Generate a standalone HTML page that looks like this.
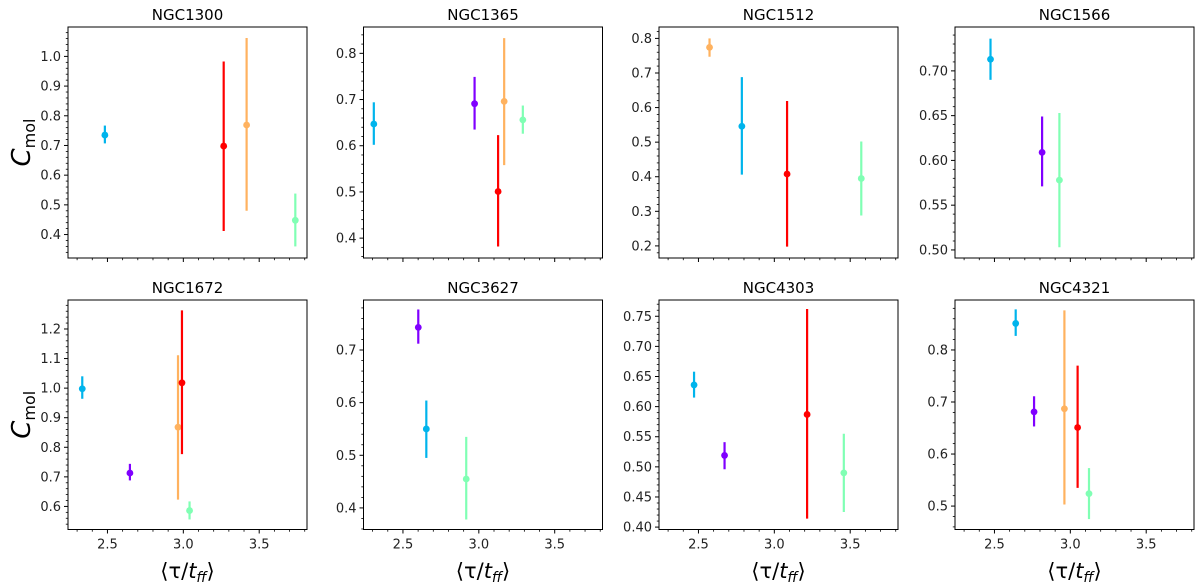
<!DOCTYPE html>
<html><head><meta charset="utf-8"><style>
html,body{margin:0;padding:0;background:#fff;}
svg{display:block;font-family:"DejaVu Sans","Liberation Sans",sans-serif;}
</style></head><body>
<svg id="fig" width="1200" height="586" viewBox="0 0 1200 586"></svg>
<script>
const panelNames=["NGC1300","NGC1365","NGC1512","NGC1566","NGC1672","NGC3627","NGC4303","NGC4321"];
const yLimLo=[0.321,0.357,0.165,0.491,0.522,0.359,0.396,0.455];
const yLimHi=[1.099,0.857,0.833,0.749,1.298,0.795,0.777,0.896];
const yMajor=[0.1,0.1,0.1,0.05,0.1,0.1,0.05,0.1];
const yDec=[1,1,1,2,1,1,2,1];
const xTicks=[2.5,3.0,3.5];
const xLimLo=2.24, xLimHi=3.815;
const colCyan="#00b4ec",colPurple="#8000ff",colRed="#ff0000",colOrange="#ffb25f",colGreen="#80ffb4";
const ptX=[
 [2.483,3.266,3.417,3.738],
 [2.308,2.972,3.127,3.167,3.29],
 [2.573,2.786,3.084,3.573],
 [2.474,2.814,2.928],
 [2.334,2.648,2.965,2.991,3.041],
 [2.601,2.654,2.917],
 [2.471,2.672,3.216,3.458],
 [2.640,2.761,2.961,3.048,3.123]];
const ptY=[
 [0.735,0.698,0.769,0.448],
 [0.647,0.691,0.501,0.696,0.656],
 [0.774,0.546,0.408,0.395],
 [0.713,0.609,0.578],
 [0.998,0.713,0.868,1.018,0.586],
 [0.743,0.550,0.455],
 [0.636,0.519,0.587,0.490],
 [0.851,0.681,0.687,0.651,0.524]];
const errLo=[
 [0.707,0.412,0.480,0.360],
 [0.602,0.635,0.382,0.558,0.626],
 [0.747,0.406,0.198,0.288],
 [0.690,0.571,0.503],
 [0.964,0.688,0.623,0.777,0.556],
 [0.712,0.495,0.378],
 [0.615,0.496,0.414,0.425],
 [0.827,0.653,0.503,0.535,0.475]];
const errHi=[
 [0.767,0.983,1.062,0.538],
 [0.694,0.749,0.623,0.833,0.687],
 [0.800,0.688,0.619,0.502],
 [0.736,0.649,0.653],
 [1.040,0.744,1.111,1.263,0.617],
 [0.777,0.604,0.535],
 [0.658,0.541,0.762,0.555],
 [0.878,0.711,0.876,0.770,0.573]];
const ptColor=[
 [colCyan,colRed,colOrange,colGreen],
 [colCyan,colPurple,colRed,colOrange,colGreen],
 [colOrange,colCyan,colRed,colGreen],
 [colCyan,colPurple,colGreen],
 [colCyan,colPurple,colOrange,colRed,colGreen],
 [colPurple,colCyan,colGreen],
 [colCyan,colPurple,colRed,colGreen],
 [colCyan,colPurple,colOrange,colRed,colGreen]];

const NS="http://www.w3.org/2000/svg";
const svg=document.getElementById("fig");
const colLeft=[68,363.5,659,955], W=239;
const rowTop=[27,300], H=[231,229.5];
function mk(tag,attrs,parent){const e=document.createElementNS(NS,tag);for(const k in attrs)e.setAttribute(k,attrs[k]);(parent||svg).appendChild(e);return e;}

panelNames.forEach((name,p)=>{
  const c=p%4, r=Math.floor(p/4);
  const L=colLeft[c], T=rowTop[r], h=H[r];
  const g=mk("g",{});
  
  
  const sx=v=>L+(v-xLimLo)/(xLimHi-xLimLo)*W;
  const sy=v=>T+h-(v-yLimLo[p])/(yLimHi[p]-yLimLo[p])*h;
  const t=mk("text",{x:L+W/2,y:T-7,"text-anchor":"middle","font-size":"15",fill:"#000"},g);
  t.textContent=name;
  
  
  for(let k=0;k<=20;k++){const v=Math.round((2.3+k*0.1)*10)/10; if(v<xLimLo||v>xLimHi)continue;
    const major=xTicks.some(m=>Math.abs(m-v)<1e-6);
    mk("line",{x1:sx(v),x2:sx(v),y1:T+h,y2:T+h+(major?4:2.2),stroke:"#000","stroke-width":major?1:0.8},g);}
  if(r===1){xTicks.forEach(v=>{const tx=mk("text",{x:sx(v),y:T+h+19,"text-anchor":"middle","font-size":"13",fill:"#222"},g);tx.textContent=v.toFixed(1);
    
    });
    const xl=mk("text",{x:L+W/2,y:578,"text-anchor":"middle","font-size":"21",fill:"#000"},g);
    xl.innerHTML='⟨τ/<tspan font-style="italic">t</tspan><tspan font-style="italic" font-size="14" dy="4">ff</tspan><tspan dy="-4">⟩</tspan>';
    
    }
  const mj=yMajor[p], mn=mj/5;
  const start=Math.ceil(yLimLo[p]/mn-1e-6);
  for(let k=start;k*mn<=yLimHi[p]+1e-9;k++){const v=k*mn; const major=Math.abs(v/mj-Math.round(v/mj))<1e-6;
    mk("line",{x1:L,x2:L-(major?4:2.2),y1:sy(v),y2:sy(v),stroke:"#000","stroke-width":major?1:0.8},g);
    if(major){const ty=mk("text",{x:L-7,y:sy(v)+4.5,"text-anchor":"end","font-size":"13",fill:"#222"},g);ty.textContent=v.toFixed(yDec[p]);
      
      }}
  if(c===0){const cy=T+h/2;const yl=mk("text",{x:0,y:0,transform:`translate(30,${cy}) rotate(-90)`,"text-anchor":"middle","font-size":"26",fill:"#000"},g);
    yl.innerHTML='<tspan font-style="italic">C</tspan><tspan font-size="16" dy="5">mol</tspan>';
    
    }
  ptX[p].forEach((xv,i)=>{
    const col=ptColor[p][i];
    const eb=mk("line",{x1:sx(xv),x2:sx(xv),y1:sy(errLo[p][i]),y2:sy(errHi[p][i]),stroke:col,"stroke-width":2.2},g);
    
    
    const pt=mk("circle",{cx:sx(xv),cy:sy(ptY[p][i]),r:3.4,fill:col},g);
    
    
  });
  const fr=mk("rect",{x:L,y:T,width:W,height:h,fill:"none",stroke:"#000","stroke-width":1},g);
  
  
});
</script>
</body></html>
